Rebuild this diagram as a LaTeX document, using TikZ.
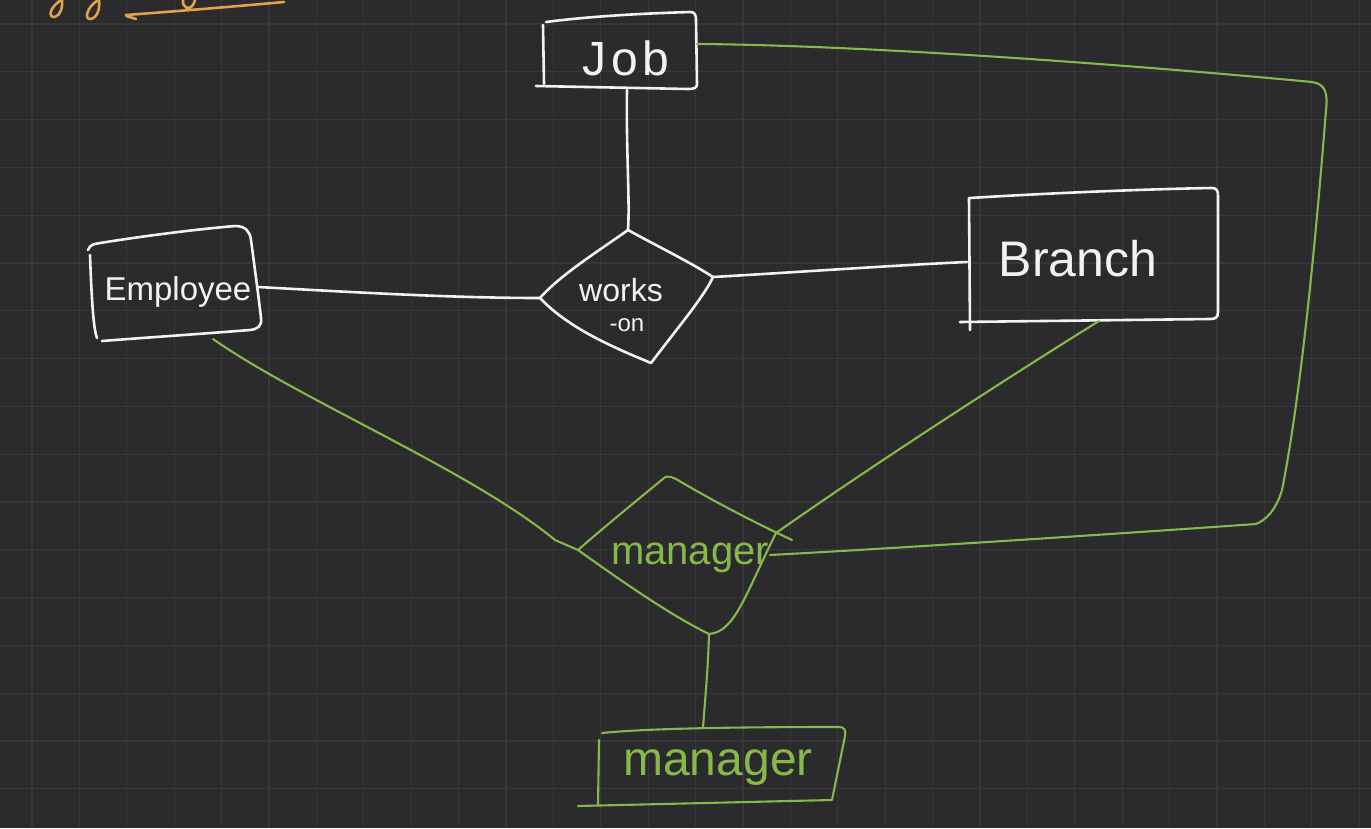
\documentclass[tikz,border=0pt]{standalone}
\usepackage{fontspec}
\setmainfont{Liberation Sans}
\usetikzlibrary{calc}
\definecolor{bg}{HTML}{2B2B2D}
\definecolor{gridc}{HTML}{37373A}
\definecolor{chalk}{HTML}{F2F2F2}
\definecolor{lime}{HTML}{86B84A}
\definecolor{amber}{HTML}{E0A24A}
\tikzset{
  wline/.style={draw=chalk, line width=2.6pt, line cap=round, line join=round},
  gline/.style={draw=lime, line width=2.1pt, line cap=round, line join=round},
  oline/.style={draw=amber, line width=2.6pt, line cap=round, line join=round},
  wtext/.style={text=chalk, inner sep=0pt},
  gtext/.style={text=lime, inner sep=0pt},
}
\begin{document}
\begin{tikzpicture}[x=1pt,y=-1pt]
\fill[bg] (0,0) rectangle (1371,828);
\useasboundingbox (0,0) rectangle (1371,828);
% grid
\foreach \i in {0,...,28} \draw[gridc, line width=1.2pt] ({32+47.4*\i},0) -- ({32+47.4*\i},828);
\foreach \j in {0,...,17} \draw[gridc, line width=1.2pt] (0,{24+47.8*\j}) -- (1371,{24+47.8*\j});

% orange scribble (top-left, cut off)
\draw[oline] (61,0) .. controls (49,8) and (48,18) .. (55,17) .. controls (61,15) and (63,6) .. (62,0);
\draw[oline] (98,0) .. controls (86,8) and (84,20) .. (91,19) .. controls (98,17) and (100,8) .. (99,0);
\draw[oline] (183,0) .. controls (182,8) and (190,12) .. (194,3) -- (195,0);
\draw[oline] (136,19) .. controls (130,17) and (125,16) .. (126,15) .. controls (180,11) and (240,6) .. (284,2);

% named anchor points
\coordinate (jobB) at (627,90);
\coordinate (jobR) at (697,44);
\coordinate (woT) at (628,230);
\coordinate (woR) at (713,277);
\coordinate (woB) at (651,363);
\coordinate (woL) at (540,298);
\coordinate (empR) at (258,287);
\coordinate (empB) at (213,339);
\coordinate (brL) at (967,262);
\coordinate (brB) at (1099,321);
\coordinate (mgL) at (578,550);
\coordinate (mgT) at (664,478);
\coordinate (mgR) at (776,533);
\coordinate (mgRo) at (770,555);
\coordinate (mgB) at (709,634);
\coordinate (mbT) at (703,728);

% Job box
\draw[wline] (543,25) -- (544,84);
\draw[wline] (546,22) .. controls (600,15) and (660,13) .. (690,12) .. controls (695,12) and (696,15) .. (696,20) -- (697,84) .. controls (697,88) and (694,89) .. (688,89) -- (536,86);
\node[wtext] (job) at (626,58) {\fontsize{48}{48}\selectfont\addfontfeature{LetterSpace=10}Job};

% Employee box
\draw[wline] (90,255) .. controls (92,310) and (94,330) .. (97,338);
\draw[wline] (88,250) .. controls (90,244) and (95,244) .. (100,243) .. controls (150,235) and (200,229) .. (235,226) .. controls (246,226) and (250,232) .. (251,240) .. controls (255,270) and (259,300) .. (261,318) .. controls (262,326) and (258,329) .. (250,330) .. controls (200,334) and (140,338) .. (102,341);
\node[wtext] (emp) at (178,292) {\fontsize{33}{33}\selectfont Employee};

% Branch box
\draw[wline] (969,198) -- (970,330);
\draw[wline] (970,198) .. controls (1050,193) and (1150,189) .. (1212,188) .. controls (1217,188) and (1218,191) .. (1218,196) -- (1218,312) .. controls (1218,318) and (1215,319) .. (1210,319) -- (960,322);
\node[wtext] (branch) at (1078,259) {\fontsize{50}{50}\selectfont Branch};

% works-on diamond
\draw[wline] (woT) .. controls (600,250) and (560,275) .. (woL) .. controls (570,330) and (620,350) .. (woB) .. controls (680,325) and (705,295) .. (woR) .. controls (690,262) and (655,245) .. (woT);
\node[wtext] (works) at (621,290) {\fontsize{32}{32}\selectfont works};
\node[wtext] (on) at (627,325) {\fontsize{24}{24}\selectfont -on};

% white connectors
\draw[wline] (jobB) .. controls (626,150) and (630,200) .. (woT);
\draw[wline] (empR) .. controls (350,292) and (450,298) .. (woL);
\draw[wline] (woR) .. controls (800,272) and (900,265) .. (brL);

% green manager diamond
\draw[gline] (mgL) .. controls (610,522) and (640,498) .. (mgT) .. controls (666,476) and (670,476) .. (676,479) .. controls (720,505) and (760,525) .. (792,540);
\draw[gline] (mgL) .. controls (620,580) and (670,615) .. (mgB) .. controls (735,632) and (745,595) .. (mgR);
\node[gtext] (mgtext) at (690,558) {\fontsize{40}{40}\selectfont manager};

% green connectors
\draw[gline] (empB) .. controls (300,400) and (470,470) .. (555,540) -- (mgL);
\draw[gline] (brB) .. controls (1020,370) and (880,460) .. (mgR);
\draw[gline] (jobR) .. controls (850,45) and (1100,62) .. (1312,82) .. controls (1325,84) and (1328,92) .. (1326,110) .. controls (1315,250) and (1300,400) .. (1282,490) .. controls (1276,510) and (1266,520) .. (1256,524) .. controls (1100,535) and (900,548) .. (mgRo);
\draw[gline] (mgB) .. controls (708,670) and (705,700) .. (mbT);

% manager entity box
\draw[gline] (599,740) -- (598,805);
\draw[gline] (602,733) .. controls (650,728) and (750,727) .. (838,727) .. controls (845,727) and (846,730) .. (845,736) -- (832,800) -- (578,806);
\node[gtext] (mbox) at (718,768) {\fontsize{48}{48}\selectfont manager};
\end{tikzpicture}
\end{document}
